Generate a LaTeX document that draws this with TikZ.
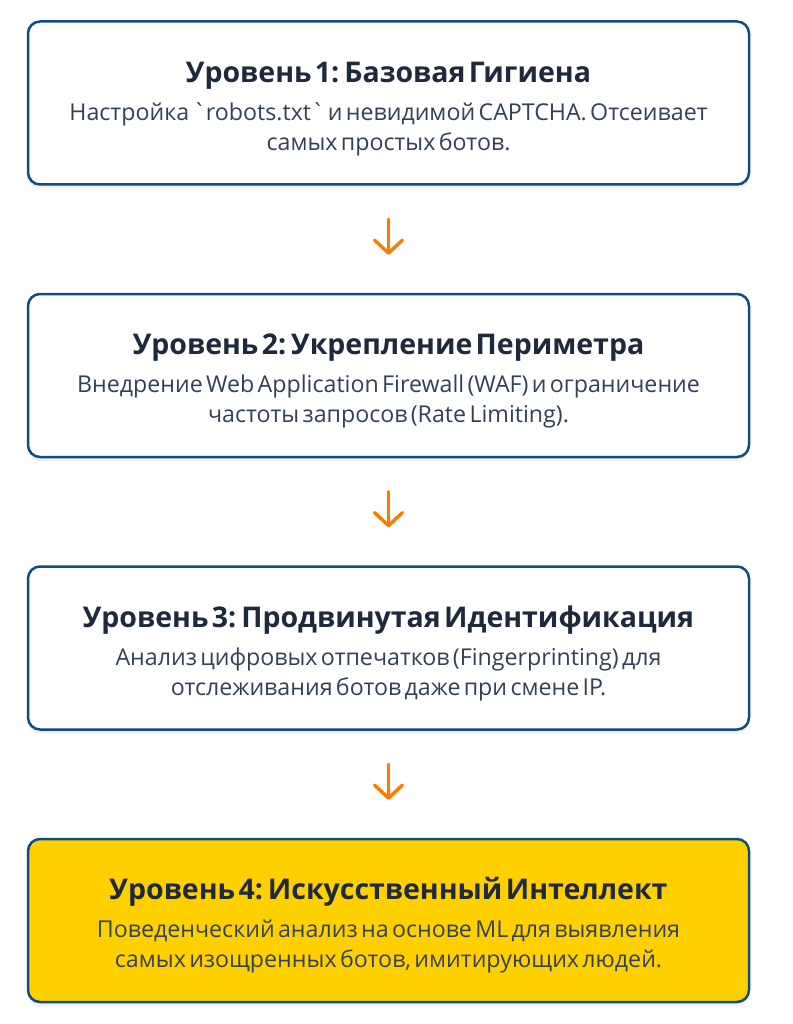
\documentclass[tikz,border=0pt]{standalone}
\usepackage{fontspec}
\setmainfont{Open Sans}[Ligatures=TeXOff]
\usetikzlibrary{shapes,arrows.meta,positioning,shadows}
\definecolor{bordo}{HTML}{0F4C81}
\definecolor{titolo}{HTML}{1E293B}
\definecolor{testo}{HTML}{334155}
\definecolor{giallo}{HTML}{FFD000}
\definecolor{arancio}{HTML}{FF7A00}
\newcommand{\livtit}[1]{{\fontsize{28.5}{37}\selectfont\bfseries\color{titolo}\rule{0pt}{32pt}#1\par}\vspace{8pt}}
\newcommand{\livtxt}[1]{{\fontsize{23.2}{30}\selectfont\color{testo}#1\par}}

\tikzset{
  livello/.style={draw=bordo, line width=2.5pt, rounded corners=12pt, fill=white,
    minimum width=721pt, minimum height=163pt, text width=710pt, align=center,
    drop shadow={opacity=0.12, shadow xshift=0pt, shadow yshift=-4pt}},
  freccia/.style={draw=arancio, line width=3.4pt, line cap=round, shorten <=33.5pt, shorten >=38pt,
    -{Straight Barb[length=13pt, width=28pt, line width=3.4pt, round]}}
}

\begin{document}
\begin{tikzpicture}[x=1pt, y=-1pt]
\useasboundingbox (0,0) rectangle (792,1024);

% Livelli
\node[livello] (liv1) at (388.5,103)
  {\livtit{Уровень 1: Базовая Гигиена}\livtxt{Настройка `robots.txt` и невидимой CAPTCHA. Отсеивает\\самых простых ботов.}};
\node[livello, below=107pt of liv1] (liv2)
  {\livtit{Уровень 2: Укрепление Периметра}\livtxt{Внедрение Web Application Firewall (WAF) и ограничение\\частоты запросов (Rate Limiting).}};
\node[livello, below=107pt of liv2] (liv3)
  {\livtit{Уровень 3: Продвинутая Идентификация}\livtxt{Анализ цифровых отпечатков (Fingerprinting) для\\отслеживания ботов даже при смене IP.}};
\node[livello, fill=giallo, below=107pt of liv3] (liv4)
  {\livtit{Уровень 4: Искусственный Интеллект}\livtxt{Поведенческий анализ на основе ML для выявления\\самых изощренных ботов, имитирующих людей.}};

% Frecce
\draw[freccia] (liv1) -- (liv2);
\draw[freccia] (liv2) -- (liv3);
\draw[freccia] (liv3) -- (liv4);
\end{tikzpicture}
\end{document}
